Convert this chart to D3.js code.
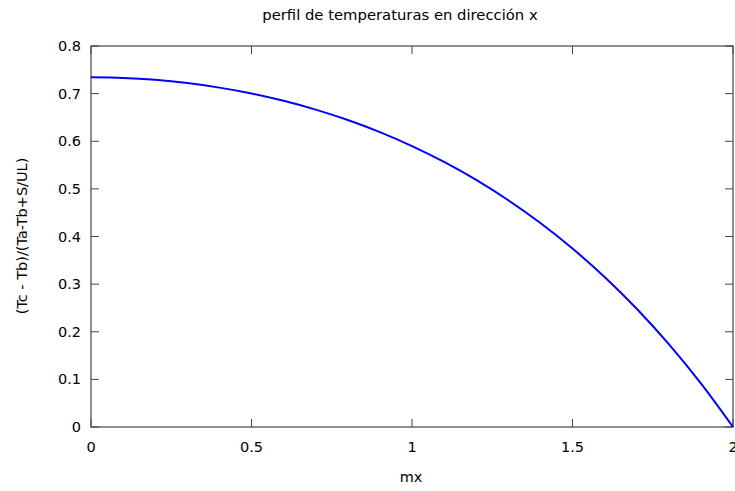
<!DOCTYPE html>
<html><head><meta charset="utf-8">
<script src="https://cdn.jsdelivr.net/npm/d3@7"></script>
<style>body{margin:0;background:#fff}svg{display:block}text{font-family:"DejaVu Sans",sans-serif;fill:#000}</style>
</head><body>
<script>
const mx = [0,0.1,0.2,0.3,0.4,0.5,0.6,0.7,0.8,0.9,1.0,1.1,1.2,1.3,1.4,1.5,1.6,1.7,1.8,1.9,2.0];
const temp = [0.7342,0.7329,0.7289,0.7221,0.7126,0.7003,0.6849,0.6664,0.6445,0.6191,0.5898,0.5565,0.5187,0.4761,0.4283,0.3747,0.3149,0.2482,0.1740,0.0916,0];
const xTicks = [0,0.5,1,1.5,2];
const yTicks = [0,0.1,0.2,0.3,0.4,0.5,0.6,0.7,0.8];
const W=735,H=491, L=91, R=733, T=46, B=427;
const svg=d3.select("body").append("svg").attr("width",W).attr("height",H);
const x=d3.scaleLinear().domain([0,2]).range([L,R]);
const y=d3.scaleLinear().domain([0,0.8]).range([B,T]);
const fmt=d=>d3.format("")(+d.toFixed(1));
const tk=8, col="#444", fs=14.5;
const g=svg.append("g");
xTicks.forEach(d=>{
  g.append("line").attr("x1",x(d)).attr("x2",x(d)).attr("y1",B).attr("y2",B-tk).attr("stroke",col);
  g.append("line").attr("x1",x(d)).attr("x2",x(d)).attr("y1",T).attr("y2",T+tk).attr("stroke",col);
  g.append("text").attr("x",x(d)).attr("y",447).attr("dy","0.35em").attr("text-anchor","middle").attr("font-size",fs).text(fmt(d));
});
yTicks.forEach(d=>{
  g.append("line").attr("x1",L).attr("x2",L+tk).attr("y1",y(d)).attr("y2",y(d)).attr("stroke",col);
  g.append("line").attr("x1",R).attr("x2",R-tk).attr("y1",y(d)).attr("y2",y(d)).attr("stroke",col);
  g.append("text").attr("x",L-10).attr("y",y(d)).attr("dy","0.35em").attr("text-anchor","end").attr("font-size",fs).text(fmt(d));
});
g.append("rect").attr("x",L).attr("y",T).attr("width",R-L).attr("height",B-T).attr("fill","none").attr("stroke",col).attr("stroke-width",1.2);
const line=d3.line().x((d,i)=>x(mx[i])).y(d=>y(d)).curve(d3.curveMonotoneX);
svg.append("path").attr("d",line(temp)).attr("fill","none").attr("stroke","#0000ff").attr("stroke-width",2);
svg.append("text").attr("x",400).attr("y",15).attr("dy","0.35em").attr("text-anchor","middle").attr("font-size",14.8).text("perfil de temperaturas en dirección x");
svg.append("text").attr("x",411).attr("y",477).attr("dy","0.35em").attr("text-anchor","middle").attr("font-size",fs).text("mx");
svg.append("text").attr("transform","translate(22,236) rotate(-90)").attr("dy","0.35em").attr("text-anchor","middle").attr("font-size",fs).text("(Tc - Tb)/(Ta-Tb+S/UL)");
</script>
</body></html>
